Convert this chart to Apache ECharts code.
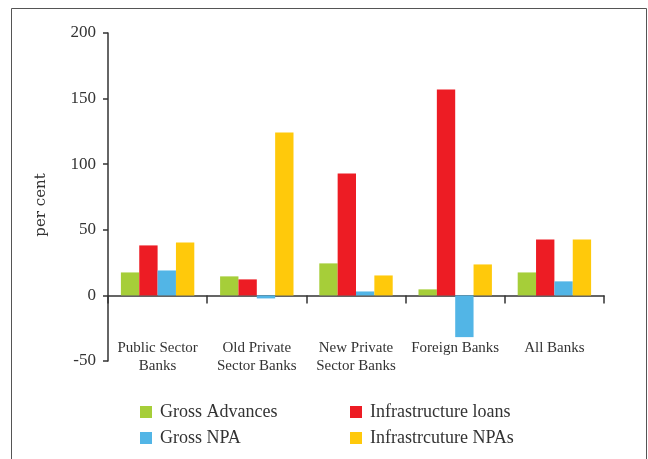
<!DOCTYPE html>
<html>
<head>
<meta charset="utf-8">
<script src="https://cdn.jsdelivr.net/npm/echarts@6/dist/echarts.min.js"></script>
<style>
  html, body { margin: 0; padding: 0; background: #fff; }
  #chart { width: 648px; height: 459px; }
</style>
</head>
<body>
<div id="chart"></div>
<script>
// Bank groups along the x axis
const categories = ['Public Sector\nBanks', 'Old Private\nSector Banks', 'New Private\nSector Banks', 'Foreign Banks', 'All Banks'];

// Growth rates, per cent
const grossAdvances = [17.5, 14.5, 24.4, 4.6, 17.5];
const infrastructureLoans = [38.1, 12.2, 93.0, 157.0, 42.7];
const grossNPA = [19.0, -2.3, 3.0, -31.8, 10.7];
const infrastructureNPAs = [40.4, 124.2, 15.2, 23.6, 42.7];

const yTicks = { min: -50, max: 200, interval: 50 };

const seriesNames = ['Gross Advances', 'Infrastructure loans', 'Gross NPA', 'Infrastrcuture NPAs'];
const seriesColors = ['#a6ce39', '#ed1c24', '#52b5e6', '#ffc90b'];
const seriesData = [grossAdvances, infrastructureLoans, grossNPA, infrastructureNPAs];

const FONT = 'Liberation Serif';
const TEXT = '#333';

const chart = echarts.init(document.getElementById('chart'), null, { renderer: 'canvas' });

// one legend box per entry, arranged in a 2x2 grid
const legendPos = [
  { left: 140, top: 403 },
  { left: 350, top: 403 },
  { left: 140, top: 429 },
  { left: 350, top: 429 }
];

chart.setOption({
  animation: false,
  backgroundColor: '#fff',
  textStyle: { fontFamily: FONT },
  grid: { left: 108, right: 44, top: 33, bottom: 98, containLabel: false },
  legend: seriesNames.map((name, i) => ({
    data: [name],
    left: legendPos[i].left,
    top: legendPos[i].top,
    padding: 0,
    itemWidth: 12,
    itemHeight: 12,
    itemGap: 8,
    icon: 'rect',
    textStyle: { fontFamily: FONT, fontSize: 18, color: TEXT, padding: [0, 0, 0, 3] },
    selectedMode: false
  })),
  xAxis: {
    type: 'category',
    data: categories,
    axisLine: { onZero: true, lineStyle: { color: '#333', width: 1.5 } },
    axisTick: { show: true, length: 8, lineStyle: { color: '#333', width: 1.5 } },
    axisLabel: { margin: -22, fontFamily: FONT, fontSize: 15, color: TEXT, lineHeight: 18, interval: 0 }
  },
  yAxis: {
    type: 'value',
    min: yTicks.min,
    max: yTicks.max,
    interval: yTicks.interval,
    splitLine: { show: false },
    axisLine: { show: true, lineStyle: { color: '#333', width: 1.5 } },
    axisTick: { show: true, length: 5, lineStyle: { color: '#333', width: 1.5 } },
    axisLabel: { margin: 12, fontFamily: FONT, fontSize: 17, color: TEXT }
  },
  series: seriesNames.map((name, i) => ({
    name: name,
    type: 'bar',
    data: seriesData[i],
    itemStyle: { color: seriesColors[i] },
    barGap: '0%',
    barCategoryGap: '26%'
  })),
  graphic: [
    {
      type: 'rect',
      shape: { x: 11.5, y: 8.5, width: 635, height: 470 },
      style: { fill: 'none', stroke: '#555', lineWidth: 1 },
      silent: true
    },
    {
      type: 'text',
      x: 41,
      y: 205,
      rotation: Math.PI / 2,
      style: {
        text: 'per cent',
        font: '15px "DejaVu Serif"',
        fill: TEXT,
        textAlign: 'center',
        textVerticalAlign: 'middle'
      }
    }
  ]
});
</script>
</body>
</html>
